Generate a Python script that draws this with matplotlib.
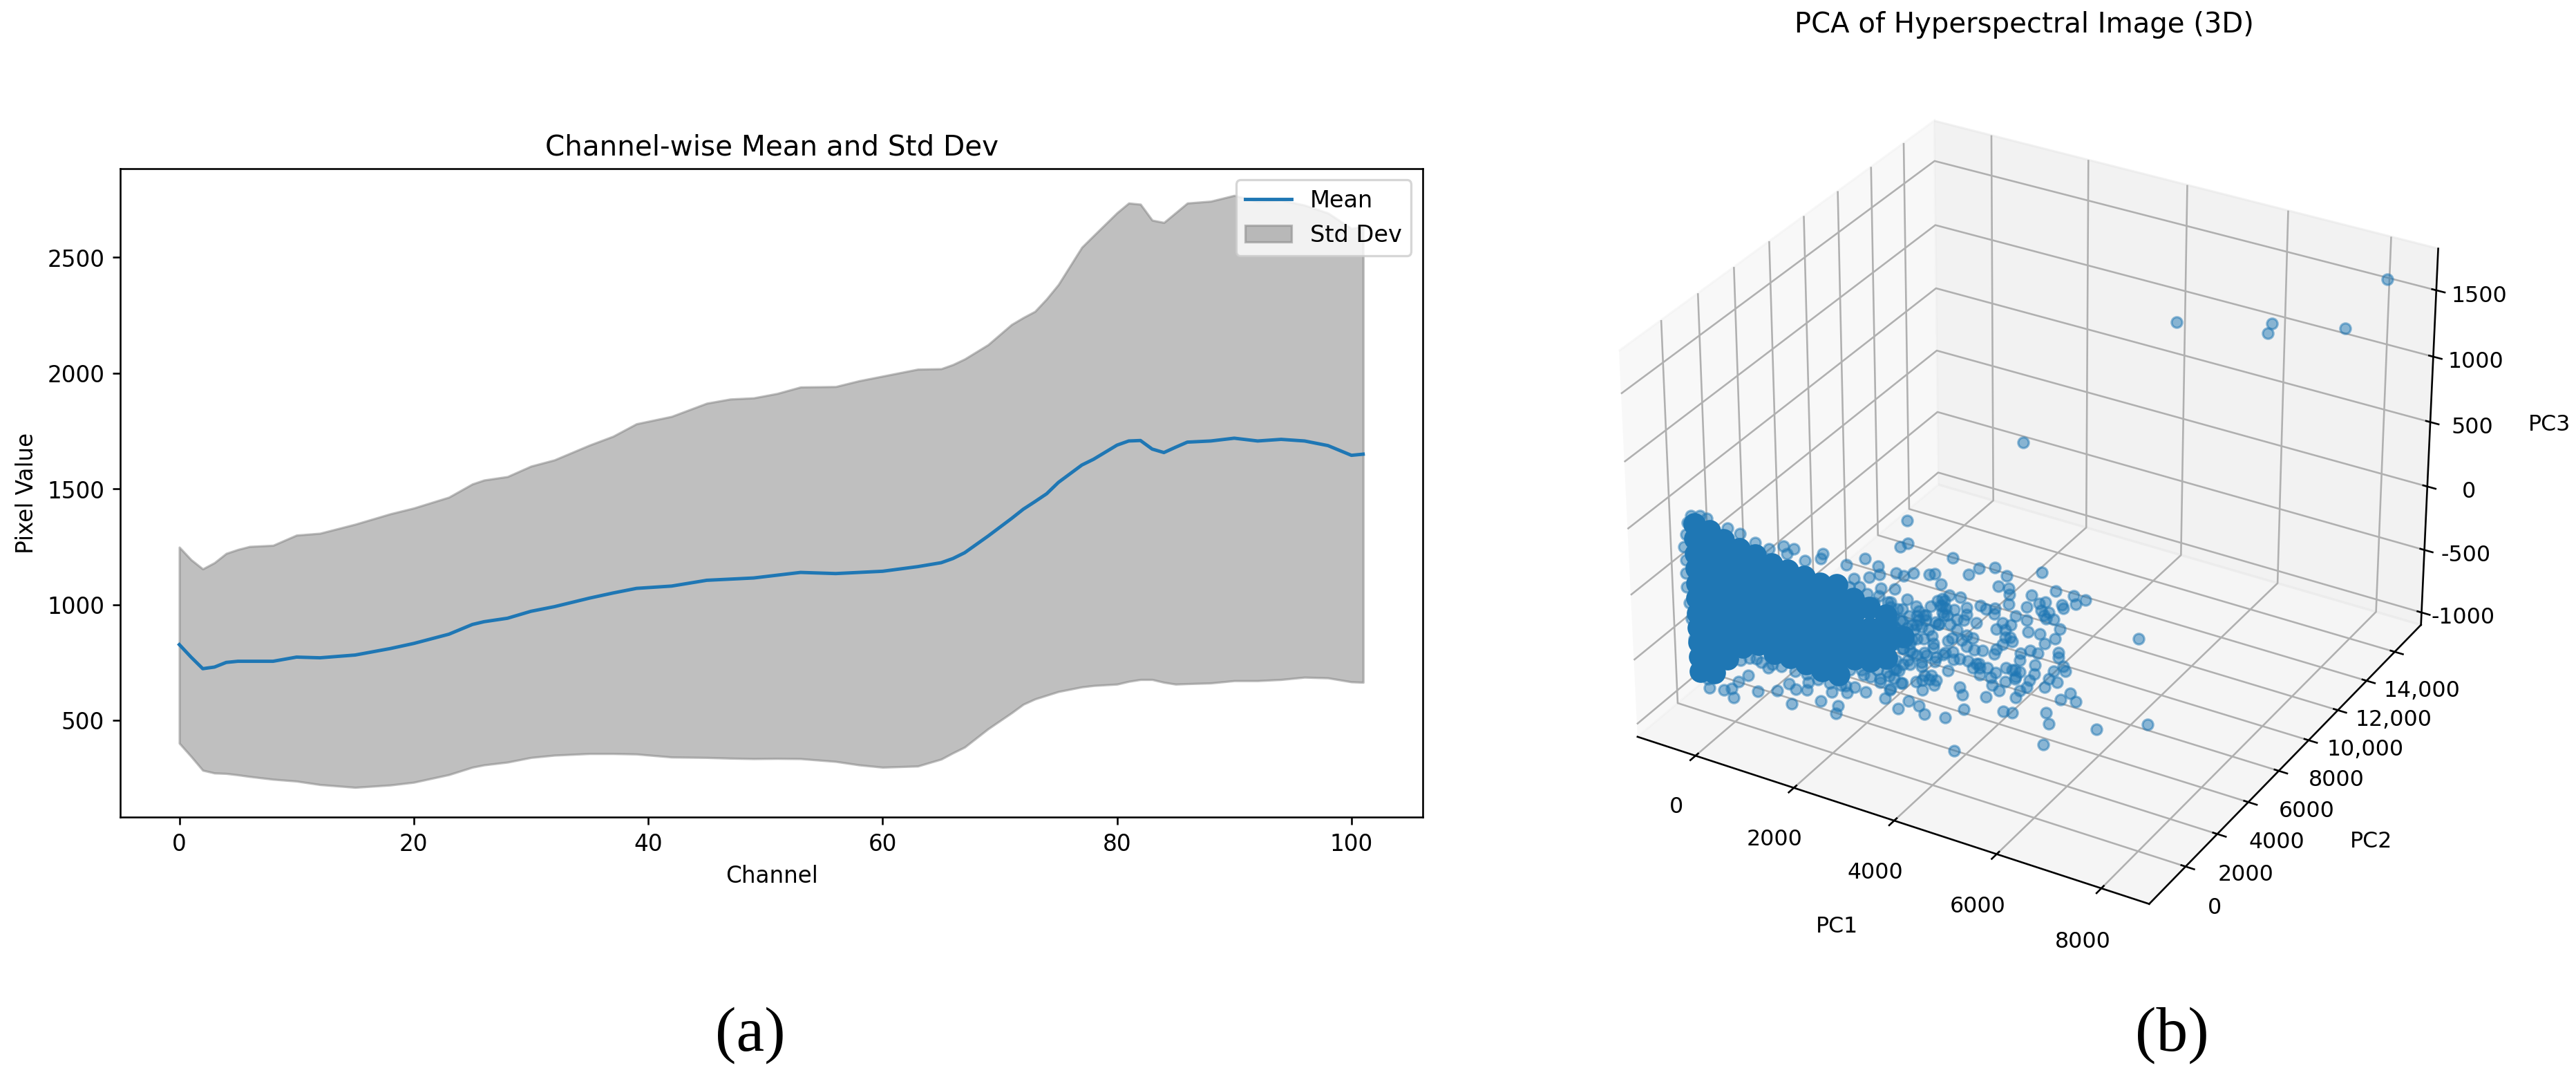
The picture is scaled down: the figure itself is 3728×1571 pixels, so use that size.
import matplotlib
matplotlib.use("Agg")
import matplotlib.pyplot as plt

W, H = 3728, 1571
DPI = 235

# ---- panel (a), values ----
channels = [0, 1, 2, 3, 4, 5, 6, 8, 10, 12, 15, 18, 20, 23, 25, 26, 28, 30, 32, 35, 37, 39, 42, 45, 47, 49,
            51, 53, 56, 58, 60, 63, 65, 66, 67, 69, 71, 72, 73, 74, 75, 77, 78, 80, 81, 82, 83, 84, 85, 86,
            88, 90, 92, 94, 96, 98, 100, 101]
mean_vals = [827, 773, 723, 730, 750, 755, 755, 755, 773, 770, 782, 810, 832, 872, 914, 926, 941, 971, 991,
             1028, 1050, 1070, 1080, 1105, 1110, 1115, 1127, 1139, 1134, 1139, 1144, 1164, 1181, 1199, 1224,
             1296, 1372, 1412, 1445, 1479, 1528, 1603, 1628, 1689, 1707, 1709, 1672, 1657, 1680, 1702, 1707,
             1719, 1707, 1714, 1707, 1687, 1645, 1650]
lower_vals = [401, 344, 284, 272, 270, 264, 257, 245, 237, 222, 210, 220, 232, 265, 297, 307, 319, 339, 349,
              356, 356, 354, 341, 339, 336, 334, 335, 334, 322, 307, 297, 302, 332, 359, 384, 463, 532, 569,
              592, 608, 624, 644, 650, 656, 668, 676, 676, 664, 656, 658, 661, 671, 671, 676, 686, 683, 666, 664]
upper_vals = [1248, 1194, 1154, 1181, 1221, 1238, 1251, 1256, 1300, 1308, 1347, 1392, 1417, 1464, 1521, 1538,
              1553, 1598, 1625, 1689, 1727, 1781, 1813, 1870, 1888, 1893, 1912, 1940, 1942, 1967, 1987, 2017,
              2019, 2037, 2061, 2123, 2210, 2240, 2267, 2321, 2383, 2544, 2594, 2693, 2735, 2730, 2661, 2651,
              2693, 2735, 2743, 2768, 2742, 2748, 2726, 2692, 2625, 2635]

# ---- panel (b), outliers read with their depth guessed from the picture ----
pc1_far = [8200, 4400, 6280, 6200, 7700, 3200, 2880]
pc2_far = [15000, 14000, 14000, 14000, 14000, 8000, 2000]
pc3_far = [1600, 990, 1170, 1090, 1280, 550, 560]

# the visible single dots, taken in the PC1/PC3 plane (PC2 cannot be read from one view)
pc1_cloud = [3426, 3579, 4445, 3333, 3486, 3681, 3982, 4097, 4213, 4746, 4954, 5255, 5477, 5324, 6148, 3310,
             3542, 5509, 5523, 5509, 5949, 6403, 6746, 6968, 6783, 6528, 6551, 5857, 6088, 6204,
             4236, 4375, 4583, 4190, 4306, 4699, 4977, 5255, 5232, 5070, 4699, 4097, 4259, 4514, 4884, 4653,
             3588, 3773, 3403, 3264, 3171, 3542, 3727, 3912, 3218, 3403, 3634, 3820, 4028, 4167, 4375, 4514,
             4699, 4815, 4329, 4051, 3912, 3727, 3588, 3820, 4074, 4236, 4445, 4560, 4699, 4838, 5000, 4607,
             4421, 5278, 5394, 5556, 5648, 5857, 5880, 6181, 6227, 6366, 6482, 6389, 6111, 6204, 5579, 5440,
             5278, 5232, 5394, 5741, 5926, 6065, 6459, 6459, 5718, 6019, 5996, 5903, 5857, 5648, 5579, 5463,
             5255, 5162, 5185, 5440, 4884, 4815, 4954, 4954, 5093, 6551, 6598, 6366, 6273, 6204, 6435, 5718,
             5648, 5324, 5070, 4560, 4607, 4097, 3958, 3820, 3704, 3866, 4329, 3403, 3171, 3264, 3125, 3449,
             3542, 3333, 3750, 3857, 4259, 4630, 5394, 5579, 6227, 6273, 6172, 6496, 6690, 6797, 7190, 8149,
             7963, 4431,
             -764, -579, -440, -834, -880, -926, -903, -903, -903, -857, -834, -787, -741, -648, -533, -510,
             -218, -23, -47, 92, 301, 495, 486, 717, 893, 1134, 1273, 1180, 1505, 1528, 1782, 2014, 2130, 2083,
             2315, 2477, 2685, 3079, 3194, 3426, -23, 231, 532, 810, 1111, 1319, 1180, 1528, 1898, 1852, 2361,
             2731, 2986, 2801, 3009, 2500, 2407, 2384, 3032, 2894, 3218, 2662, 2986, 3310, 2384, 3542, 3542, 3773,
             162, 347, 579, 810, 995, 1273, 1505, 1736, 1968, 2199, 2292, 2431, 2616, 2801, 2986, 3171, 3357,
             3310, 3125, 2940, 3449, 3264, 3032, 2801, 3495, 3634, 3727, 3866, 4005, 3727, 3449, 3218, 2986,
             2755, 2616, 4236, 4329, 4144, 3958, 4051, 3866, 3634, 3588, 3820, 4097, 4282, 4421, 3264, 3449,
             3125, 3310, 3495, 3681, 3264, 3449, 3218, 3588, 3866, 3727, 3912, 3357, 4283, 4468, 4236, 4144,
             6273, 6135, 5440, 5533, 5625, 5625, 5718, 4722, 4931, 4005, 3820, 3264, 4051]
pc3_cloud = [645, 690, 681, 440, 437, 479, 505, 520, 458, 593, 663, 701, 667, 573, 770, 318,
             265, 575, 533, 461, 578, 661, 666, 660, 608, 576, 549, 478, 534, 558,
             352, 397, 405, 295, 291, 341, 385, 402, 356, 371, 289, 160, 233, 231, 250, 239,
             149, 207, 90, 108, 201, 55, 95, 154, -39, -33, -22, 90, 46, 151, 177, 152,
             131, 128, 49, -39, -110, -133, -115, -173, -141, -69, -77, -63, 52, 42, 55, 84,
             -27, 248, 306, 309, 391, 382, 297, 458, 438, 447, 391, 309, 309, 251, 189, 207,
             98, 57, 149, 122, 163, 162, 212, 177, 67, 70, -3, -59, -118, -65, -21, -19,
             -80, -127, -185, -126, -57, -100, -135, -83, -65, 119, 90, 61, -4, -74, -10, -161,
             -223, -211, -287, -273, -329, -279, -288, -384, -337, -272, -179, -384, -466, -296, -331, -238,
             -506, -590, -515, -569, -544, -434, -357, -346, -267, -346, -516, -133, -66, -113, -273, -117,
             494, -780,
             405, 428, 420, 344, 250, 148, 54, -51, -156, -273, -393, -545, -653, -738, -828, -896,
             -876, -914, -846, -776, -697, -800, -550, -592, -745, -662, -688, -814, -668, -604, -721, -620, -712, -779,
             -591, -527, -542, -539, -454, -381, 393, 381, 349, 333, 388, 388, 335, 326, 417, 376, 387,
             478, 449, 347, 390, 300, 227, 153, 288, 166, 172, -407, -402, -291, -408, -191, -33, 137,
             -600, -560, -566, -553, -548, -548, -545, -559, -556, -545, -542, -349, -378, -407, -428, -360, -294,
             -221, -261, -337, -115, -103, -98, -127, -4, 83, -10, 184, 271, 236, 183, 207, 229,
             218, 254, 300, 242, 148, 89, -4, -97, -127, -220, -208, -103, -45, 78, 37, 96,
             -51, 25, -4, 54, -103, -115, 67, -62, 8, 166, 189, 171, 341, 295, 247, 324,
             488, 487, 260, 218, -15, -86, -21, -59, -51, -255, -314, -366, -320]

# solid core of the cloud, too dense to pick out dots
pc1_core = [-695] * 11 + [-394] * 11 + [-116] * 9 + [208] * 8 + [532] * 7 + [856] * 7 + [1180] * 7 + \
           [1504] * 7 + [1829] * 7 + [2153] * 7 + [2477] * 5 + [2801] * 4 + [3125] * 4 + [3449]
pc3_core = [352, 238, 124, 10, -104, -218, -332, -446, -560, -674, -788,
            329, 215, 101, -13, -127, -241, -355, -469, -583, -697, -759,
            293, 180, 65, -49, -163, -277, -391, -505, -619,
            264, 150, 36, -78, -192, -306, -420, -490,
            253, 139, 25, -89, -203, -317, -431,
            224, 110, -4, -118, -232, -346, -461,
            212, 98, -16, -130, -244, -358, -455,
            200, 86, -28, -142, -256, -370, -466,
            189, 75, -39, -153, -267, -381, -478,
            212, 98, -16, -130, -244, -358, -472,
            148, 25, -89, -203, -308,
            119, -39, -153, -285,
            100, 2, -112, -226,
            -27]

x_ticks_3d = [0, 2000, 4000, 6000, 8000]
y_ticks_3d = [0, 2000, 4000, 6000, 8000, 10000, 12000, 14000]
z_ticks_3d = [-1000, -500, 0, 500, 1000, 1500]
x_labels_3d = ["0", "2000", "4000", "6000", "8000"]
y_labels_3d = ["0", "2000", "4000", "6000", "8000", "10,000", "12,000", "14,000"]
z_labels_3d = ["-1000", "-500", "0", "500", "1000", "1500"]

fig = plt.figure(figsize=((W + 0.5) / DPI, (H + 0.5) / DPI), dpi=DPI)


def px_rect(left, top, right, bottom):
    return [left / W, 1 - bottom / H, (right - left) / W, (bottom - top) / H]


# (a) mean and std dev
ax1 = fig.add_axes(px_rect(174, 244, 2059, 1182))
ax1.plot(channels, mean_vals, color="tab:blue", label="Mean")
ax1.fill_between(channels, lower_vals, upper_vals, color="gray", alpha=0.5, label="Std Dev")
ax1.set_xlim(-5.04, 106.1)
ax1.set_ylim(82, 2885)
ax1.set_title("Channel-wise Mean and Std Dev", fontsize=12.4)
ax1.set_xlabel("Channel")
ax1.set_ylabel("Pixel Value")
ax1.legend(loc="upper right", fontsize=10.3)

# (b) PCA scatter
ax2 = fig.add_axes(px_rect(2270, 73, 3588, 1391), projection="3d")
ax2.set_xlim(-1200, 8900, view_margin=0)
ax2.set_ylim(-2250, 15900, view_margin=0)
ax2.set_zlim(-1100, 1810, view_margin=0)
ax2.scatter(pc1_core, pc3_core, zs=0, zdir="y", s=100, color="#1f77b4", linewidths=0, depthshade=False)
ax2.scatter(pc1_cloud, pc3_cloud, zs=0, zdir="y", s=22, color="#1f77b4", alpha=0.5, depthshade=False)
ax2.scatter(pc1_far, pc2_far, pc3_far, s=22, color="#1f77b4", alpha=0.5, depthshade=False)
ax2.set_xticks(x_ticks_3d, x_labels_3d, fontsize=9.7)
ax2.set_yticks(y_ticks_3d, y_labels_3d, fontsize=9.7)
ax2.set_zticks(z_ticks_3d, z_labels_3d, fontsize=9.7)
ax2.tick_params(axis="x", pad=5)
ax2.set_xlabel("PC1", fontsize=9.7, labelpad=13)
ax2.set_ylabel("PC2", fontsize=9.7, labelpad=12)
ax2.set_zlabel("PC3", fontsize=9.7, labelpad=12)

fig.text(2929 / W, 1 - 36 / H, "PCA of Hyperspectral Image (3D)", fontsize=12.3, ha="center", va="center")
fig.text(1086 / W, 1 - 1497 / H, "(a)", fontsize=28, family="Liberation Serif", ha="center", va="center")
fig.text(3143 / W, 1 - 1497 / H, "(b)", fontsize=28, family="Liberation Serif", ha="center", va="center")

fig.savefig("out.png", dpi=DPI)
